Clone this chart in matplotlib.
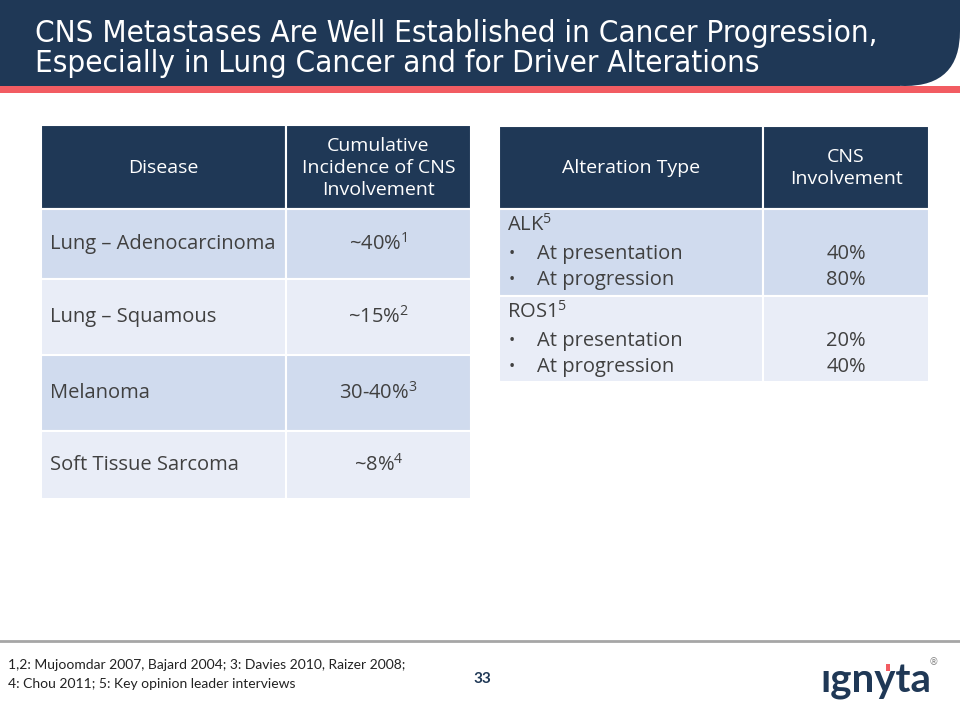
import matplotlib
matplotlib.use("Agg")
from matplotlib import pyplot as plt
from matplotlib.patches import Rectangle, FancyBboxPatch

# data
title_lines = ["CNS Metastases Are Well Established in Cancer Progression,",
               "Especially in Lung Cancer and for Driver Alterations"]
diseases = ["Lung \u2013 Adenocarcinoma", "Lung \u2013 Squamous", "Melanoma", "Soft Tissue Sarcoma"]
incidence = ["~40%", "~15%", "30-40%", "~8%"]
incidence_refs = ["1", "2", "3", "4"]
alterations = ["ALK", "ROS1"]
alteration_refs = ["5", "5"]
stages = ["At presentation", "At progression"]
cns_values = [["40%", "80%"], ["20%", "40%"]]
footnote = ["1,2: Mujoomdar 2007, Bajard 2004; 3: Davies 2010, Raizer 2008;",
            "4: Chou 2011; 5: Key opinion leader interviews"]
page_no = "33"

navy = "#1f3856"
row_dark = "#d0dbee"
row_light = "#e9edf7"
text_gray = "#404040"
body_font = ["Open Sans", "DejaVu Sans"]
body_size = 14.5

plt.rcParams['mathtext.fontset'] = 'custom'
plt.rcParams['mathtext.rm'] = 'Open Sans'

fig = plt.figure(figsize=(9.6, 7.2), dpi=100)
ax = fig.add_axes([0, 0, 1, 1])
ax.set_xlim(0, 960)
ax.set_ylim(720, 0)
ax.axis('off')

# title bar with rounded corner
ax.add_patch(Rectangle((0, 0), 900, 86, color=navy, lw=0))
ax.add_patch(FancyBboxPatch((850, -60), 110, 146, boxstyle="round,pad=0,rounding_size=55",
                            color=navy, lw=0))
ax.add_patch(Rectangle((0, 86), 960, 7, color="#f25c62", lw=0))
for k, line in enumerate(title_lines):
    ax.text(35, 33 + 30 * k, line, color="white", fontsize=22.5, va="center",
            family="DejaVu Sans", fontstretch="condensed")

def cell(x0, y0, x1, y1, fc):
    ax.add_patch(Rectangle((x0, y0), x1 - x0, y1 - y0, facecolor=fc, edgecolor="white", lw=1.5))

# left table
lx = [41, 286, 471]
left_rows = [(125, 209), (209, 279), (279, 355), (355, 431), (431, 499)]
cell(lx[0], 125, lx[1], 209, navy)
cell(lx[1], 125, lx[2], 209, navy)
ax.text((lx[0] + lx[1]) / 2, 168, "Disease", color="white", fontsize=14,
        ha="center", va="center", family=body_font)
ax.text((lx[1] + lx[2]) / 2, 168, "Cumulative\nIncidence of CNS\nInvolvement", color="white",
        fontsize=14, ha="center", va="center", linespacing=1.3, family=body_font)
for i, (name, val, ref) in enumerate(zip(diseases, incidence, incidence_refs)):
    y0, y1 = left_rows[i + 1]
    fc = row_dark if i % 2 == 0 else row_light
    cell(lx[0], y0, lx[1], y1, fc)
    cell(lx[1], y0, lx[2], y1, fc)
    yc = (y0 + y1) / 2
    ax.text(lx[0] + 9, yc, name, color=text_gray, fontsize=body_size, va="center", family=body_font)
    ax.text((lx[1] + lx[2]) / 2, yc, val + "$^{" + ref + "}$", color=text_gray, fontsize=body_size,
            ha="center", va="center", family=body_font)

# right table
rx = [499, 763, 929]
cell(rx[0], 126, rx[1], 209, navy)
cell(rx[1], 126, rx[2], 209, navy)
ax.text((rx[0] + rx[1]) / 2, 168, "Alteration Type", color="white", fontsize=14,
        ha="center", va="center", family=body_font)
ax.text((rx[1] + rx[2]) / 2, 168, "CNS\nInvolvement", color="white", fontsize=14,
        ha="center", va="center", linespacing=1.3, family=body_font)
right_rows = [(209, 296), (296, 382)]
for i, (alt, ref) in enumerate(zip(alterations, alteration_refs)):
    y0, y1 = right_rows[i]
    fc = row_dark if i % 2 == 0 else row_light
    cell(rx[0], y0, rx[1], y1, fc)
    cell(rx[1], y0, rx[2], y1, fc)
    ax.text(rx[0] + 8, y0 + 16, alt + "$^{" + ref + "}$", color=text_gray, fontsize=body_size,
            va="center", family=body_font)
    for j, st in enumerate(stages):
        yy = y0 + 45 + j * 26
        ax.text(rx[0] + 10, yy, "\u2022", color=text_gray, fontsize=12, va="center", family=body_font)
        ax.text(rx[0] + 38, yy, st, color=text_gray, fontsize=body_size, va="center", family=body_font)
        ax.text((rx[1] + rx[2]) / 2, yy, cns_values[i][j], color=text_gray, fontsize=body_size,
                ha="center", va="center", family=body_font)

# footer
ax.plot([0, 960], [641, 641], color="#a6a6a6", lw=2)
ax.text(8, 665, footnote[0], color="#222222", fontsize=10, va="center", family=["Lato", "DejaVu Sans"])
ax.text(8, 684, footnote[1], color="#222222", fontsize=10, va="center", family=["Lato", "DejaVu Sans"])
ax.text(482, 679, page_no, color=navy, fontsize=11, fontweight="bold", ha="center", va="center",
        family=["Lato", "DejaVu Sans"])
ax.text(876, 682, "\u0131gnyta", color=navy, fontsize=29, fontweight="bold", ha="center", va="center",
        family=["Lato", "DejaVu Sans"])
ax.add_patch(Rectangle((885.5, 664), 4, 7, color="#f25c62", lw=0))
ax.text(934, 662, "\u00ae", color="#888888", fontsize=7, ha="center", va="center")

fig.savefig("out.png", dpi=100)
